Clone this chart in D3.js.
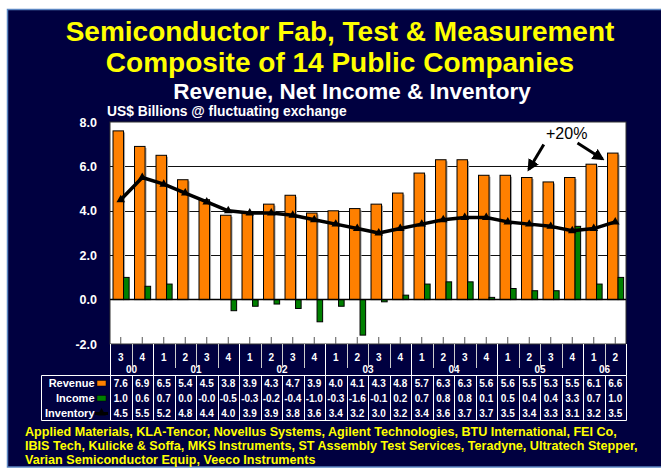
<!DOCTYPE html>
<html>
<head>
<meta charset="utf-8">
<script src="https://cdn.jsdelivr.net/npm/d3@7"></script>
<style>
  body { margin: 0; background: #fff; }
  svg { display: block; font-family: Arial, "Liberation Sans", sans-serif; }
</style>
</head>
<body>
<svg id="chart" width="661" height="469"></svg>
<script>
// Quarters, 2000 Q3 .. 2006 Q2
const periods = ['00Q3','00Q4','01Q1','01Q2','01Q3','01Q4','02Q1','02Q2','02Q3','02Q4',
  '03Q1','03Q2','03Q3','03Q4','04Q1','04Q2','04Q3','04Q4','05Q1','05Q2','05Q3','05Q4','06Q1','06Q2'];
const revenue = [7.6,6.9,6.5,5.4,4.5,3.8,3.9,4.3,4.7,3.9,4.0,4.1,4.3,4.8,5.7,6.3,6.3,5.6,5.6,5.5,5.3,5.5,6.1,6.6];
const income = [1.0,0.6,0.7,0.0,-0.0,-0.5,-0.3,-0.2,-0.4,-1.0,-0.3,-1.6,-0.1,0.2,0.7,0.8,0.8,0.1,0.5,0.4,0.4,3.3,0.7,1.0];
const inventory = [4.5,5.5,5.2,4.8,4.4,4.0,3.9,3.9,3.8,3.6,3.4,3.2,3.0,3.2,3.4,3.6,3.7,3.7,3.5,3.4,3.3,3.1,3.2,3.5];
const yTicks = [8, 6, 4, 2, 0, -2];
const gridValues = [2, 4, 6];
const seriesNames = ['Revenue', 'Income', 'Inventory'];
const titleLines = ['Semiconductor Fab, Test & Measurement', 'Composite of 14 Public Companies'];
const subtitle = 'Revenue, Net Income & Inventory';
const unitLabel = 'US$ Billions @ fluctuating exchange';
const annotation = '+20%';
const companyLines = [
  'Applied Materials, KLA-Tencor, Novellus Systems, Agilent Technologies, BTU International, FEI Co,',
  'IBIS Tech, Kulicke & Soffa, MKS Instruments, ST Assembly Test Services, Teradyne, Ultratech Stepper,',
  'Varian Semiconductor Equip, Veeco Instruments'
];

const NAVY = '#000040', ORANGE = '#ff8000', GREEN = '#008000', YELLOW = '#ffff00';

const svg = d3.select('#chart');

// background panel
svg.append('rect')
  .attr('x', 7.5).attr('y', 9.5).attr('width', 660).attr('height', 457.5)
  .attr('fill', NAVY).attr('stroke', '#5b86c2').attr('stroke-width', 1.5);

// titles
svg.selectAll('text.title')
  .data(titleLines)
  .join('text')
  .attr('class', 'title')
  .attr('x', 340).attr('y', (d, i) => 41 + i * 31)
  .attr('text-anchor', 'middle')
  .attr('fill', YELLOW).attr('font-weight', 'bold').attr('font-size', 28)
  .text(d => d);

svg.append('text')
  .attr('x', 352).attr('y', 99)
  .attr('text-anchor', 'middle')
  .attr('fill', '#fff').attr('font-weight', 'bold').attr('font-size', 22.5)
  .text(subtitle);

svg.append('text')
  .attr('x', 107).attr('y', 116)
  .attr('fill', '#fff').attr('font-weight', 'bold').attr('font-size', 13.8)
  .text(unitLabel);

// scales
const plot = { left: 110, right: 626, top: 122, bottom: 344 };
const x = d3.scaleBand().domain(periods).range([plot.left, plot.right]).padding(0);
const y = d3.scaleLinear().domain([-2, 8]).range([plot.bottom, plot.top]);
const bw = x.bandwidth();

// plot area
svg.append('rect')
  .attr('x', plot.left).attr('y', plot.top)
  .attr('width', plot.right - plot.left).attr('height', plot.bottom - plot.top)
  .attr('fill', '#fff').attr('stroke', '#333').attr('stroke-width', 1);

svg.append('g')
  .selectAll('line')
  .data(gridValues)
  .join('line')
  .attr('x1', plot.left).attr('x2', plot.right)
  .attr('y1', d => Math.round(y(d)) + 0.5).attr('y2', d => Math.round(y(d)) + 0.5)
  .attr('stroke', '#111').attr('stroke-width', 1);

// category ticks along the bottom
svg.append('g')
  .selectAll('line')
  .data(periods)
  .join('line')
  .attr('x1', d => x(d) + bw / 2).attr('x2', d => x(d) + bw / 2)
  .attr('y1', plot.bottom - 7).attr('y2', plot.bottom)
  .attr('stroke', '#555').attr('stroke-width', 1);

// revenue bars
const revX = d => x(d) + bw * 0.14;
const revW = bw * 0.49;
const incX = d => x(d) + bw * 0.63;
const incW = bw * 0.26;

const rows = periods.map((p, i) => ({ p, rev: revenue[i], inc: income[i], inv: inventory[i] }));

const bars = svg.append('g');
bars.selectAll('rect.rev-shadow')
  .data(rows)
  .join('rect')
  .attr('x', d => revX(d.p) + 1.5).attr('y', d => y(d.rev) + 1.5)
  .attr('width', revW).attr('height', d => y(0) - y(d.rev) - 1.5)
  .attr('fill', '#aaa');
bars.selectAll('rect.rev')
  .data(rows)
  .join('rect')
  .attr('class', 'rev')
  .attr('x', d => revX(d.p)).attr('y', d => y(d.rev))
  .attr('width', revW).attr('height', d => y(0) - y(d.rev))
  .attr('fill', ORANGE).attr('stroke', '#000').attr('stroke-width', 1);

bars.selectAll('rect.inc')
  .data(rows)
  .join('rect')
  .attr('class', 'inc')
  .attr('x', d => incX(d.p)).attr('y', d => Math.min(y(d.inc), y(0)))
  .attr('width', incW).attr('height', d => Math.abs(y(d.inc) - y(0)))
  .attr('fill', GREEN).attr('stroke', '#000').attr('stroke-width', 1);

// zero line
svg.append('line')
  .attr('x1', plot.left).attr('x2', plot.right)
  .attr('y1', y(0)).attr('y2', y(0))
  .attr('stroke', '#000').attr('stroke-width', 1.5);

// inventory line
const line = d3.line()
  .x(d => x(d.p) + bw / 2)
  .y(d => y(d.inv));

svg.append('path')
  .datum(rows)
  .attr('d', line)
  .attr('fill', 'none').attr('stroke', '#000').attr('stroke-width', 3.5)
  .attr('stroke-linejoin', 'round');

const tri = d3.symbol().type(d3.symbolTriangle).size(32);
svg.append('g')
  .selectAll('path')
  .data(rows)
  .join('path')
  .attr('transform', d => `translate(${x(d.p) + bw / 2},${y(d.inv)})`)
  .attr('d', tri)
  .attr('fill', '#000');

// y axis labels
svg.append('g')
  .selectAll('text')
  .data(yTicks)
  .join('text')
  .attr('x', 97).attr('y', d => y(d))
  .attr('dy', '0.36em')
  .attr('text-anchor', 'end')
  .attr('fill', '#fff').attr('font-weight', 'bold').attr('font-size', 12.5)
  .text(d => d.toFixed(1));

// annotation arrows (+20% from 05Q2 to 06Q2)
const defs = svg.append('defs');
defs.append('marker')
  .attr('id', 'arrow').attr('viewBox', '0 0 10 10')
  .attr('refX', 8).attr('refY', 5)
  .attr('markerWidth', 4).attr('markerHeight', 4)
  .attr('orient', 'auto')
  .append('path').attr('d', 'M0,0 L10,5 L0,10 z').attr('fill', '#000');

const a1 = { x: revX('05Q2') + revW / 2 + 2, y: y(5.5) - 8 };
const a2 = { x: x('06Q2') - 2, y: y(6.6) + 6 };
svg.append('line')
  .attr('x1', a1.x + 15).attr('y1', a1.y - 25).attr('x2', a1.x).attr('y2', a1.y)
  .attr('stroke', '#000').attr('stroke-width', 3).attr('marker-end', 'url(#arrow)');
svg.append('line')
  .attr('x1', a2.x - 25).attr('y1', a2.y - 16).attr('x2', a2.x).attr('y2', a2.y)
  .attr('stroke', '#000').attr('stroke-width', 3).attr('marker-end', 'url(#arrow)');
svg.append('text')
  .attr('x', 546).attr('y', 139)
  .attr('fill', '#000').attr('font-size', 16)
  .text(annotation);

// category header: quarters and years
const header = svg.append('g').attr('fill', '#fff').attr('font-weight', 'bold').attr('font-size', 10);
header.selectAll('text.q')
  .data(periods)
  .join('text')
  .attr('x', d => x(d) + bw / 2).attr('y', 361)
  .attr('text-anchor', 'middle')
  .text(d => d.slice(3));

const groups = d3.groups(periods, d => d.slice(0, 2));
header.selectAll('text.yr')
  .data(groups)
  .join('text')
  .attr('x', d => (x(d[1][0]) + x(d[1][d[1].length - 1]) + bw) / 2).attr('y', 373)
  .attr('text-anchor', 'middle')
  .text(d => d[0]);

const lines = svg.append('g').attr('stroke', '#fff').attr('stroke-width', 1);
lines.selectAll('line.qsep')
  .data(periods.slice(1))
  .join('line')
  .attr('x1', d => Math.round(x(d)) + 0.5).attr('x2', d => Math.round(x(d)) + 0.5)
  .attr('y1', plot.bottom).attr('y2', 368)
  .attr('stroke', '#ccc');
lines.selectAll('line.ysep')
  .data(groups)
  .join('line')
  .attr('x1', d => Math.round(x(d[1][0])) + 0.5).attr('x2', d => Math.round(x(d[1][0])) + 0.5)
  .attr('y1', plot.bottom).attr('y2', 376);

// data table
const tableTop = 375.5, rowH = 15, tableLeft = 41.5;
const tableBottom = tableTop + rowH * 3;
lines.append('line')
  .attr('x1', tableLeft).attr('x2', plot.right + 0.5).attr('y1', tableTop).attr('y2', tableTop);
lines.append('line')
  .attr('x1', tableLeft).attr('x2', plot.right + 0.5).attr('y1', tableBottom).attr('y2', tableBottom);
lines.selectAll('line.col')
  .data(periods.concat(['end']))
  .join('line')
  .attr('x1', d => d === 'end' ? plot.right + 0.5 : Math.round(x(d)) + 0.5)
  .attr('x2', d => d === 'end' ? plot.right + 0.5 : Math.round(x(d)) + 0.5)
  .attr('y1', tableTop).attr('y2', tableBottom);
lines.append('line')
  .attr('x1', tableLeft).attr('x2', tableLeft).attr('y1', tableTop).attr('y2', tableBottom);
lines.append('line')
  .attr('x1', plot.right + 0.5).attr('x2', plot.right + 0.5).attr('y1', plot.bottom).attr('y2', tableTop);

const fmt = v => Object.is(v, -0) ? '-0.0' : v.toFixed(1);
const tableSeries = [revenue, income, inventory];
const table = svg.append('g').attr('fill', '#fff').attr('font-weight', 'bold');

table.selectAll('text.name')
  .data(seriesNames)
  .join('text')
  .attr('x', 94.5).attr('y', (d, i) => tableTop + rowH * i + rowH / 2 + 4)
  .attr('text-anchor', 'end').attr('font-size', 11)
  .text(d => d);

tableSeries.forEach((vals, r) => {
  table.append('g')
    .selectAll('text')
    .data(vals)
    .join('text')
    .attr('x', (d, i) => x(periods[i]) + bw / 2)
    .attr('y', tableTop + rowH * r + rowH / 2 + 3.5)
    .attr('text-anchor', 'middle').attr('font-size', 10)
    .text(d => fmt(d));
});

// legend keys in table
const keyY = r => tableTop + rowH * r + rowH / 2;
svg.append('rect').attr('x', 97).attr('y', keyY(0) - 2.5).attr('width', 9).attr('height', 5.5)
  .attr('fill', ORANGE).attr('stroke', '#000').attr('stroke-width', 0.5);
svg.append('rect').attr('x', 97).attr('y', keyY(1) - 2.5).attr('width', 9).attr('height', 5.5)
  .attr('fill', GREEN).attr('stroke', '#000').attr('stroke-width', 0.5);
svg.append('line').attr('x1', 95).attr('x2', 108).attr('y1', keyY(2) + 0.5).attr('y2', keyY(2) + 0.5)
  .attr('stroke', '#000').attr('stroke-width', 3);
svg.append('path').attr('transform', `translate(101.5,${keyY(2)})`).attr('d', tri).attr('fill', '#000');

// company list
svg.append('g')
  .selectAll('text')
  .data(companyLines)
  .join('text')
  .attr('x', 25).attr('y', (d, i) => 436 + i * 14)
  .attr('fill', YELLOW).attr('font-weight', 'bold').attr('font-size', 12.6)
  .text(d => d);
</script>
</body>
</html>
